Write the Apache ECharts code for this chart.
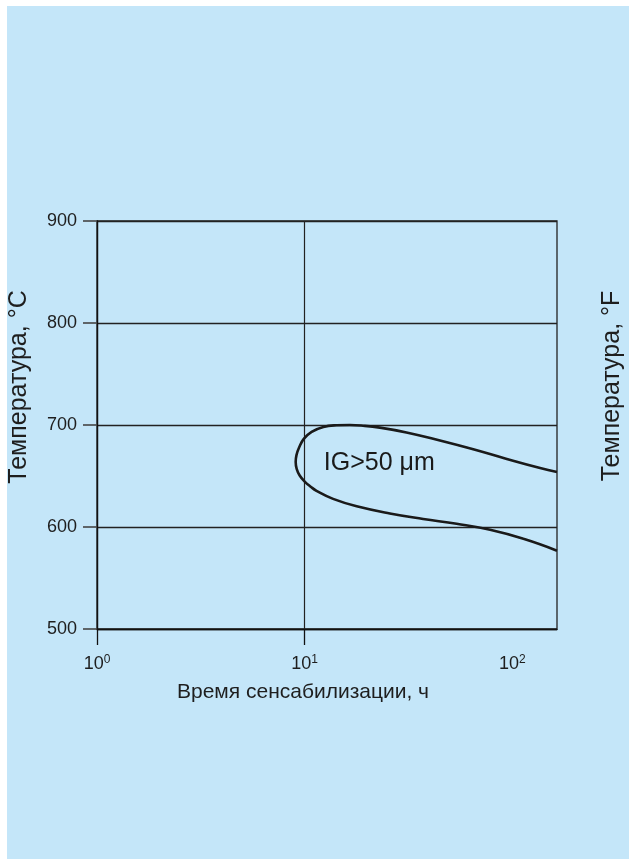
<!DOCTYPE html>
<html>
<head>
<meta charset="utf-8">
<script src="https://cdn.jsdelivr.net/npm/echarts@6/dist/echarts.min.js"></script>
<style>
  html, body { margin: 0; padding: 0; background: #ffffff; }
  #panel { position: absolute; left: 7px; top: 6px; width: 622px; height: 853px; background: #c4e6f9; }
  #chart { position: absolute; left: 0; top: 0; width: 630px; height: 861px; }
</style>
</head>
<body>
<div id="panel"></div>
<div id="chart"></div>
<script>
// Sensitisation time axis (hours, log scale) and temperature axis (°C)
const timeMin = 1;
const timeMax = 164;
const timeLabelValues = [1, 10, 100];
const timeLabelExponents = ['0', '1', '2'];
const timeTickValues = [1, 10];
const tempMin = 500;
const tempMax = 900;
const tempStep = 100;

// Boundary of the intergranular-attack zone (IG > 50 µm), traced as one C-shaped curve
const curveTime = [164, 136.0, 94.0, 64.8, 44.8, 30.9, 23.0, 19.1, 16.5, 14.2, 12.3, 10.8, 9.9, 9.41, 9.13, 9.05,
                   9.15, 9.46, 10.0, 10.69, 11.4, 13.7, 17.8, 25.7, 37.2, 53.9, 78.1, 113, 164];
const curveTemp = [654.0, 657.8, 666.7, 676.2, 684.8, 692.7, 697.4, 699.3, 700.0, 699.7, 698.1, 693.3, 686.4, 678.1, 670.5, 663.8,
                   657.1, 650.5, 644.5, 639.5, 635.5, 627.6, 620.3, 613.3, 607.9, 603.1, 597.2, 588.4, 576.8];

// Zone annotation
const zoneText = 'IG>50 \u03bcm';
const zoneTextTime = 12.3;
const zoneTextTemp = 663;

// Axis titles
const xTitle = 'Время сенсабилизации, ч';
const yTitleC = 'Температура, °C';
const yTitleF = 'Температура, °F';

const FONT = '"Liberation Sans", Arial, Helvetica, sans-serif';
const INK = '#1e1e1e';

const curveData = curveTime.map((t, i) => [t, curveTemp[i]]);

const chart = echarts.init(document.getElementById('chart'), null, { renderer: 'canvas' });

chart.setOption({
  backgroundColor: 'transparent',
  animation: false,
  grid: {
    left: 97, top: 221, right: 73, bottom: 232,
    show: true,
    borderColor: '#222222',
    borderWidth: 1.3,
    backgroundColor: 'transparent',
    containLabel: false
  },
  xAxis: {
    type: 'log',
    logBase: 10,
    min: timeMin,
    max: timeMax,
    axisLine: { show: true, lineStyle: { color: '#111111', width: 1.3 } },
    axisTick: {
      show: true, inside: false, length: 16,
      customValues: timeTickValues,
      lineStyle: { color: '#111111', width: 1.3 }
    },
    splitLine: { show: true, lineStyle: { color: '#222222', width: 1.2 } },
    axisLabel: {
      show: true,
      margin: 25,
      customValues: timeLabelValues,
      formatter: function (v) {
        const i = timeLabelValues.indexOf(Math.round(v));
        return '{b|10}{s|' + (i >= 0 ? timeLabelExponents[i] : '') + '}';
      },
      rich: {
        b: { fontFamily: FONT, fontSize: 18, color: INK, lineHeight: 20 },
        s: { fontFamily: FONT, fontSize: 12, color: INK, verticalAlign: 'top', lineHeight: 20 }
      }
    }
  },
  yAxis: {
    type: 'value',
    min: tempMin,
    max: tempMax,
    interval: tempStep,
    axisLine: { show: true, lineStyle: { color: '#111111', width: 1.3 } },
    axisTick: { show: true, inside: false, length: 14, lineStyle: { color: '#444444', width: 1.6 } },
    splitLine: { show: true, lineStyle: { color: '#222222', width: 1.3 } },
    axisLabel: { show: true, margin: 20, fontFamily: FONT, fontSize: 18, color: INK }
  },
  series: [
    {
      type: 'line',
      data: curveData,
      smooth: 0.45,
      symbol: 'none',
      lineStyle: { color: '#1a1a1a', width: 2.6 },
      z: 5
    },
    {
      type: 'scatter',
      data: [[zoneTextTime, zoneTextTemp]],
      symbolSize: 1,
      itemStyle: { color: 'transparent', opacity: 1 },
      label: {
        show: true,
        position: 'right',
        distance: 0,
        formatter: zoneText,
        fontFamily: FONT,
        fontSize: 25,
        color: '#1a1a1a',
        opacity: 1
      },
      silent: true,
      z: 6
    }
  ],
  graphic: [
    {
      type: 'text', x: 19, y: 387, rotation: Math.PI / 2,
      style: { text: yTitleC, font: '25px ' + FONT, fill: INK, textAlign: 'center', textVerticalAlign: 'middle' }
    },
    {
      type: 'text', x: 612, y: 386, rotation: Math.PI / 2,
      style: { text: yTitleF, font: '25px ' + FONT, fill: INK, textAlign: 'center', textVerticalAlign: 'middle' }
    },
    {
      type: 'text', x: 303, y: 692,
      style: { text: xTitle, font: '21px ' + FONT, fill: INK, textAlign: 'center', textVerticalAlign: 'middle' }
    }
  ]
});
</script>
</body>
</html>
